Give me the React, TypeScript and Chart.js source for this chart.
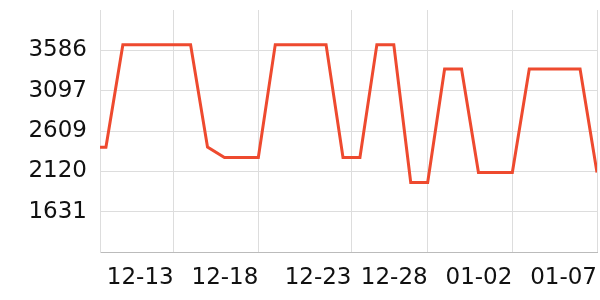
import React, { useEffect, useRef } from "react";
import { Chart, registerables } from "chart.js";

Chart.register(...registerables);

// data point positions (day index) and values
const pointIndex = [0, 1, 2, 3, 4, 5, 6, 7, 8, 9, 10, 11, 12, 13, 14, 15, 16, 17, 18, 19, 20, 21, 22, 23, 24, 25, 26, 27, 28, 29, 30];
const seriesValues = [
  2413, 2413, 3655, 3655, 3655, 3655, 3655, 2413, 2287, 2287, 2287,
  3655, 3655, 3655, 3655, 2287, 2287, 3655, 3655, 1985, 1985,
  3360, 3360, 2105, 2105, 2105, 3360, 3360, 3360, 3360, 2105,
];

// x-axis ticks
const xTickPositions = [5, 10, 15.5, 20, 25, 30];
const xTickLabels = ["12-13", "12-18", "12-23", "12-28", "01-02", "01-07"];

// y-axis ticks
const yTickValues = [1631, 2119.75, 2608.5, 3097.25, 3586];
const yMin = 1142.25;
const yMax = 4074.75;
const xMin = 0.65;
const xMax = 30;

export default function App() {
  const ref = useRef<HTMLCanvasElement | null>(null);

  useEffect(() => {
    document.body.style.margin = "0";
    const canvas = ref.current;
    if (!canvas) return;
    const font = { family: "'DejaVu Sans'", size: 23 };
    const zeroPad = (scale: any) => {
      scale.paddingTop = 0;
      scale.paddingBottom = 0;
      scale.paddingLeft = 0;
      scale.paddingRight = 0;
    };
    const chart = new Chart(canvas, {
      type: "line",
      data: {
        datasets: [
          {
            data: pointIndex.map((x, i) => ({ x, y: seriesValues[i] })),
            borderColor: "#ee4a2f",
            backgroundColor: "#ee4a2f",
            borderWidth: 3,
            pointRadius: 0,
            tension: 0,
            fill: false,
          },
        ],
      },
      options: {
        animation: false,
        responsive: false,
        maintainAspectRatio: false,
        layout: { padding: { top: 10, right: 3, left: 0, bottom: 0 } },
        plugins: { legend: { display: false }, tooltip: { enabled: false } },
        scales: {
          x: {
            type: "linear",
            min: xMin,
            max: xMax,
            afterBuildTicks: (scale: any) => {
              scale.ticks = xTickPositions.map((v) => ({ value: v }));
            },
            afterFit: (scale: any) => {
              scale.height = 48;
              zeroPad(scale);
            },
            grid: { color: "#dddddd", lineWidth: 1, drawTicks: false },
            border: { display: true, color: "#bbbbbb", width: 1 },
            ticks: {
              autoSkip: false,
              maxRotation: 0,
              minRotation: 0,
              align: "end",
              padding: 12,
              color: "#111111",
              font,
              callback: (v: any) => {
                const i = xTickPositions.indexOf(Number(v));
                return i >= 0 ? xTickLabels[i] : "";
              },
            },
          },
          y: {
            type: "linear",
            min: yMin,
            max: yMax,
            afterBuildTicks: (scale: any) => {
              scale.ticks = yTickValues.map((v) => ({ value: v }));
            },
            afterFit: (scale: any) => {
              scale.width = 100;
              zeroPad(scale);
            },
            grid: { color: "#dddddd", lineWidth: 1, drawTicks: false },
            border: { display: true, color: "#dddddd", width: 1 },
            ticks: {
              padding: 13,
              color: "#111111",
              font,
              callback: (v: any) => String(Math.round(Number(v))),
            },
          },
        },
      },
    });
    return () => chart.destroy();
  }, []);

  return (
    <div style={{ width: 600, height: 300 }}>
      <canvas ref={ref} width={600} height={300} style={{ display: "block" }} />
    </div>
  );
}
